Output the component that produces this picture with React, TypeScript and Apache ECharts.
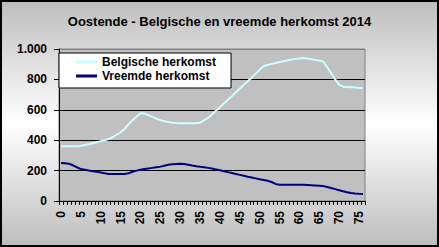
import React, { useEffect, useRef } from "react";
import * as echarts from "echarts";

const TITLE = "Oostende - Belgische en vreemde herkomst 2014";
const SERIES_NAMES = ["Belgische herkomst", "Vreemde herkomst"];

// leeftijd 0..76
const categories: string[] = [
  "0","1","2","3","4","5","6","7","8","9",
  "10","11","12","13","14","15","16","17","18","19",
  "20","21","22","23","24","25","26","27","28","29",
  "30","31","32","33","34","35","36","37","38","39",
  "40","41","42","43","44","45","46","47","48","49",
  "50","51","52","53","54","55","56","57","58","59",
  "60","61","62","63","64","65","66","67","68","69",
  "70","71","72","73","74","75","76",
];

const belgische: number[] = [
  360, 360, 360, 360, 360, 362, 368, 374, 380, 387,
  394, 400, 408, 420, 436, 452, 475, 505, 532, 555,
  578, 575, 565, 553, 542, 532, 525, 519, 515, 513,
  512, 512, 512, 512, 512, 515, 530, 546, 570, 594,
  618, 642, 666, 690, 715, 740, 764, 788, 813, 838,
  863, 888, 895, 902, 908, 914, 920, 926, 931, 935,
  938, 940, 938, 933, 928, 924, 918, 880, 840, 800,
  765, 752, 750, 748, 746, 744, 743,
];

const vreemde: number[] = [
  250, 248, 245, 235, 222, 210, 205, 200, 196, 192,
  188, 182, 178, 177, 177, 177, 178, 183, 192, 200,
  206, 210, 214, 218, 222, 226, 232, 238, 242, 244,
  245, 243, 238, 233, 229, 226, 222, 218, 214, 208,
  202, 196, 190, 184, 178, 172, 166, 160, 155, 149,
  143, 138, 133, 125, 112, 107, 107, 107, 107, 107,
  107, 107, 106, 104, 102, 100, 98, 92, 85, 78,
  71, 64, 58, 53, 49, 47, 46,
];

const Y_MIN = 0;
const Y_MAX = 1000;
const Y_STEP = 200;

const FONT = "'Liberation Sans', Arial, sans-serif";

export default function App() {
  const ref = useRef<HTMLDivElement>(null);

  useEffect(() => {
    if (!ref.current) return;
    const chart = echarts.init(ref.current, null, { renderer: "svg" });
    chart.setOption({
      animation: false,
      backgroundColor: new echarts.graphic.LinearGradient(0, 0, 0, 1, [
        { offset: 0, color: "#bdbdbd" },
        { offset: 0.5, color: "#ffffff" },
        { offset: 1, color: "#bdbdbd" },
      ]),
      title: {
        text: TITLE,
        left: "center",
        top: 15,
        padding: 0,
        textStyle: { fontFamily: FONT, fontSize: 13, fontWeight: "bold", color: "#000" },
      },
      graphic: [
        {
          type: "rect",
          shape: { x: 1, y: 1, width: 437, height: 245 },
          style: { fill: "none", stroke: "#000", lineWidth: 2 },
          silent: true,
          z: 100,
        },
      ],
      legend: {
        orient: "vertical",
        left: 59,
        top: 53,
        backgroundColor: "#ffffff",
        borderColor: "#000000",
        borderWidth: 1,
        borderRadius: 0,
        padding: [2, 15, 5, 17],
        itemGap: 0,
        itemWidth: 21,
        itemHeight: 3,
        icon: "rect",
        textStyle: { fontFamily: FONT, fontSize: 12, fontWeight: "bold", color: "#000", lineHeight: 14 },
        data: SERIES_NAMES,
      },
      grid: {
        left: 59,
        top: 49,
        width: 306,
        height: 152,
        show: true,
        backgroundColor: "#c0c0c0",
        borderColor: "#808080",
        borderWidth: 1,
        containLabel: false,
      },
      xAxis: {
        type: "category",
        data: categories,
        boundaryGap: true,
        axisLine: { show: true, lineStyle: { color: "#000", width: 1 } },
        axisTick: { show: true, interval: 0, length: 4, lineStyle: { color: "#000" } },
        axisLabel: {
          interval: 4,
          rotate: 90,
          margin: 10,
          fontFamily: FONT,
          fontSize: 12,
          fontWeight: "bold",
          color: "#000",
        },
        splitLine: { show: false },
      },
      yAxis: {
        type: "value",
        min: Y_MIN,
        max: Y_MAX,
        interval: Y_STEP,
        axisLine: { show: true, lineStyle: { color: "#000", width: 1 } },
        axisTick: { show: true, length: 5, lineStyle: { color: "#000" } },
        axisLabel: {
          margin: 12,
          fontFamily: FONT,
          fontSize: 12,
          fontWeight: "bold",
          color: "#000",
          formatter: (v: number) => (v >= 1000 ? v.toLocaleString("de-DE") : String(v)),
        },
        splitLine: {
          show: true,
          lineStyle: { color: ["#000", "#000", "#000", "#000", "#000", "#808080"], width: 1 },
        },
      },
      series: [
        {
          name: SERIES_NAMES[0],
          type: "line",
          data: belgische,
          symbol: "none",
          lineStyle: { color: "#ccffff", width: 2 },
          itemStyle: { color: "#ccffff" },
        },
        {
          name: SERIES_NAMES[1],
          type: "line",
          data: vreemde,
          symbol: "none",
          lineStyle: { color: "#000080", width: 2 },
          itemStyle: { color: "#000080" },
        },
      ],
    });
    return () => chart.dispose();
  }, []);

  return (
    <div
      ref={ref}
      style={{ position: "fixed", left: 0, top: 0, width: 439, height: 247 }}
    />
  );
}
